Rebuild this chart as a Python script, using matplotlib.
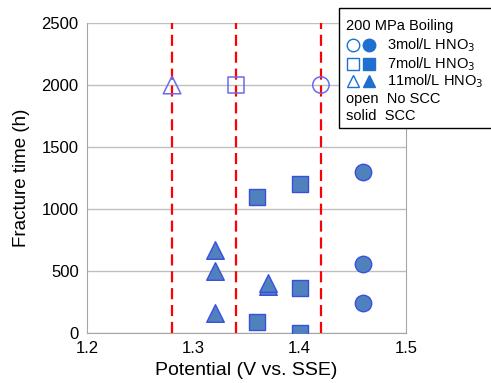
import matplotlib
matplotlib.use('Agg')
import matplotlib.pyplot as plt
from matplotlib.lines import Line2D
from matplotlib.patches import Rectangle

# ===== Data =====
# open markers = no SCC (stopped at 2000 h)
open_circle_x = [1.42]
open_circle_y = [2000]
open_square_x = [1.34]
open_square_y = [2000]
open_tri_x = [1.28]
open_tri_y = [2000]

# solid markers = SCC
circle_x = [1.46, 1.46, 1.46]
circle_y = [1300, 560, 240]
square_x = [1.36, 1.40, 1.40, 1.36, 1.40]
square_y = [1100, 1200, 360, 90, 0]
tri_x = [1.32, 1.32, 1.32, 1.37, 1.37]
tri_y = [670, 500, 160, 380, 400]

# red dashed threshold potentials
vlines_x = [1.28, 1.34, 1.42]

x_ticks = [1.2, 1.3, 1.4, 1.5]
y_ticks = [0, 500, 1000, 1500, 2000, 2500]

fill_col = '#4F81BD'
edge_col = '#3A4FE0'
open_col = '#6A6AF0'

plt.rcParams['font.family'] = ['Liberation Sans', 'DejaVu Sans']

fig = plt.figure(figsize=(4.91, 3.83), dpi=100)
ax = fig.add_axes([87 / 491, 50 / 383, 319 / 491, 310 / 383])

for xv in vlines_x:
    ax.axvline(xv, color='#FF0000', linestyle=(0, (5, 2.6)), linewidth=1.6, zorder=2)

ax.scatter(open_circle_x, open_circle_y, s=140, facecolor='none', edgecolor=open_col, marker='o', linewidth=1.1, zorder=3)
ax.scatter(open_square_x, open_square_y, s=140, facecolor='none', edgecolor=open_col, marker='s', linewidth=1.1, zorder=3)
ax.scatter(open_tri_x, open_tri_y, s=160, facecolor='none', edgecolor=open_col, marker='^', linewidth=1.1, zorder=3)

ax.scatter(circle_x, circle_y, s=140, facecolor=fill_col, edgecolor=edge_col, marker='o', linewidth=1.0, zorder=3)
ax.scatter(square_x, square_y, s=140, facecolor=fill_col, edgecolor=edge_col, marker='s', linewidth=1.0, zorder=3)
ax.scatter(tri_x, tri_y, s=160, facecolor=fill_col, edgecolor=edge_col, marker='^', linewidth=1.0, zorder=3)

ax.set_xlim(1.2, 1.5)
ax.set_ylim(0, 2500)
ax.set_xticks(x_ticks)
ax.set_xticklabels(['%.1f' % v for v in x_ticks])
ax.set_yticks(y_ticks)
ax.yaxis.grid(True, color='#BFBFBF', linewidth=1.0, zorder=0)
ax.set_axisbelow(True)
ax.tick_params(length=0, labelsize=12, colors='#000000', pad=6)
for side in ['left', 'bottom', 'right']:
    ax.spines[side].set_color('#A6A6A6')
ax.spines['top'].set_visible(False)
ax.set_xlabel('Potential (V vs. SSE)', fontsize=14, labelpad=4)
ax.set_ylabel('Fracture time (h)', fontsize=13.5, labelpad=8)

# ===== Legend box drawn by hand =====
fig.add_artist(Rectangle((339 / 491, 1 - 128 / 383), 160 / 491, 120 / 383, transform=fig.transFigure,
                         facecolor='white', edgecolor='black', linewidth=1.0, zorder=10))
W, H = 491.0, 383.0
fs = 10.5
fig.text(346 / W, 1 - 26 / H, '200 MPa Boiling', fontsize=fs, va='center', zorder=11)
rows = [('o', '3mol/L HNO$_3$', 45), ('s', '7mol/L HNO$_3$', 64), ('^', '11mol/L HNO$_3$', 81)]
for mk, label, yy in rows:
    fig.add_artist(Line2D([353 / W], [1 - yy / H], marker=mk, markersize=9, markerfacecolor='none',
                          markeredgecolor='#1F6FD0', markeredgewidth=1.0, linestyle='none',
                          transform=fig.transFigure, zorder=11))
    fig.add_artist(Line2D([369 / W], [1 - yy / H], marker=mk, markersize=9, markerfacecolor='#1F6FD0',
                          markeredgecolor='#1F6FD0', linestyle='none',
                          transform=fig.transFigure, zorder=11))
    fig.text(387 / W, 1 - yy / H, label, fontsize=fs, va='center', zorder=11)
fig.text(346 / W, 1 - 99 / H, 'open  No SCC', fontsize=fs, va='center', zorder=11)
fig.text(346 / W, 1 - 116 / H, 'solid  SCC', fontsize=fs, va='center', zorder=11)

fig.savefig('out.png', dpi=100)
